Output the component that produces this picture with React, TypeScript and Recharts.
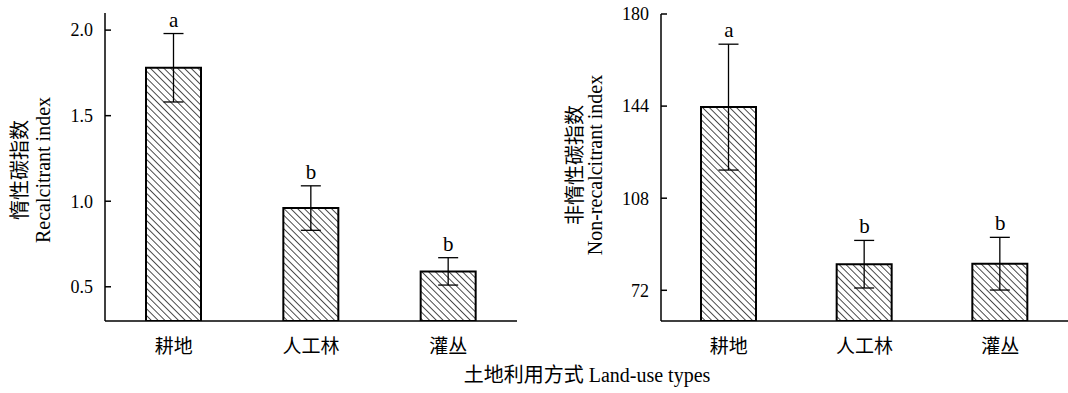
import { BarChart, Bar, XAxis, YAxis, ErrorBar, ReferenceDot, Label } from "recharts";

const landUse = ["耕地", "人工林", "灌丛"];

const recalcValues = [1.78, 0.96, 0.59];
const recalcErrors = [0.2, 0.13, 0.08];
const recalcLetters = ["a", "b", "b"];
const recalcTicks = [0.5, 1.0, 1.5, 2.0];

const nonRecalcValues = [143.6, 82.2, 82.4];
const nonRecalcErrors = [24.6, 9.3, 10.3];
const nonRecalcLetters = ["a", "b", "b"];
const nonRecalcTicks = [72, 108, 144, 180];

const FONT = "'Liberation Serif', 'Noto Sans CJK SC', serif";

const recalcData = landUse.map((name, i) => ({ name, value: recalcValues[i], err: recalcErrors[i] }));
const nonRecalcData = landUse.map((name, i) => ({ name, value: nonRecalcValues[i], err: nonRecalcErrors[i] }));

// y ticks with the tick mark pointing into the plot
const InTick = (props: any) => {
    const { y, payload, fmt, axisX } = props;
    return (
        <g>
            <line x1={axisX} x2={axisX + 6} y1={y} y2={y} stroke="#000" strokeWidth={1.5} />
            <text x={axisX - 12} y={y} dy="0.35em" textAnchor="end" fontSize={18} fontFamily={FONT} fill="#000">
                {fmt(payload.value)}
            </text>
        </g>
    );
};

const CatTick = (props: any) => {
    const { x, y, payload } = props;
    return (
        <text x={x} y={y} dy="0.85em" textAnchor="middle" fontSize={19} fontFamily={FONT} fill="#000">
            {payload.value}
        </text>
    );
};

const yTitle = (zh: string, en: string, x1: number, x2: number, cy: number) => () => (
    <g fontFamily={FONT} fontSize={20} fill="#000">
        <text x={x1} y={cy} transform={`rotate(-90 ${x1} ${cy})`} textAnchor="middle" dominantBaseline="central">{zh}</text>
        <text x={x2} y={cy} transform={`rotate(-90 ${x2} ${cy})`} textAnchor="middle" dominantBaseline="central">{en}</text>
    </g>
);

const Hatch = ({ id }: { id: string }) => (
    <defs>
        <pattern id={id} width={4.8} height={10} patternUnits="userSpaceOnUse" patternTransform="rotate(-45)">
            <rect width={4.8} height={10} fill="#fff" />
            <line x1={0} y1={0} x2={0} y2={10} stroke="#000" strokeWidth={1.4} />
        </pattern>
    </defs>
);

const letterLabel = (txt: string) => (p: any) => {
    const vb = p.viewBox || {};
    const cx = vb.x + (vb.width || 0) / 2;
    return (
        <text x={cx} y={vb.y - 7} textAnchor="middle" fontSize={21} fontFamily={FONT} fill="#000">
            {txt}
        </text>
    );
};

const App = () => (
    <div style={{ position: "absolute", left: 0, top: 0, width: 1068, height: 393, background: "#fff" }}>
        <div style={{ position: "absolute", left: 0, top: 0 }}>
            <BarChart width={530} height={393} data={recalcData} margin={{ top: 13, right: 13, bottom: 0, left: 0 }}>
                <Hatch id="hatchL" />
                <XAxis dataKey="name" height={72} tickLine={false} tickSize={0} tickMargin={16}
                    axisLine={{ stroke: "#000", strokeWidth: 1.5 }} tick={<CatTick />} />
                <YAxis type="number" width={105} domain={[0.3, 2.1]} ticks={recalcTicks} allowDataOverflow
                    tickLine={false} tickSize={0} tickMargin={8}
                    axisLine={{ stroke: "#000", strokeWidth: 1.5 }}
                    tick={<InTick axisX={105} fmt={(v: number) => v.toFixed(1)} />}>
                    <Label content={yTitle("惰性碳指数", "Recalcitrant index", 20, 43, 170)} />
                </YAxis>
                <Bar dataKey="value" fill="url(#hatchL)" stroke="#000" strokeWidth={2} barSize={55} isAnimationActive={false}>
                    <ErrorBar dataKey="err" width={10} stroke="#000" strokeWidth={1.3} />
                </Bar>
                {landUse.map((c, i) => (
                    <ReferenceDot key={c} x={c} y={recalcValues[i] + recalcErrors[i]} r={0} stroke="none" fill="none">
                        <Label content={letterLabel(recalcLetters[i])} />
                    </ReferenceDot>
                ))}
            </BarChart>
        </div>
        <div style={{ position: "absolute", left: 540, top: 0 }}>
            <BarChart width={528} height={393} data={nonRecalcData} margin={{ top: 14, right: 0, bottom: 0, left: 0 }}>
                <Hatch id="hatchR" />
                <XAxis dataKey="name" height={72} tickLine={false} tickSize={0} tickMargin={16}
                    axisLine={{ stroke: "#000", strokeWidth: 1.5 }} tick={<CatTick />} />
                <YAxis type="number" width={121} domain={[60, 180]} ticks={nonRecalcTicks} allowDataOverflow
                    tickLine={false} tickSize={0} tickMargin={8}
                    axisLine={{ stroke: "#000", strokeWidth: 1.5 }}
                    tick={<InTick axisX={121} fmt={(v: number) => String(v)} />}>
                    <Label content={yTitle("非惰性碳指数", "Non-recalcitrant index", 35, 55, 165)} />
                </YAxis>
                <Bar dataKey="value" fill="url(#hatchR)" stroke="#000" strokeWidth={2} barSize={55} isAnimationActive={false}>
                    <ErrorBar dataKey="err" width={10} stroke="#000" strokeWidth={1.3} />
                </Bar>
                {landUse.map((c, i) => (
                    <ReferenceDot key={c} x={c} y={nonRecalcValues[i] + nonRecalcErrors[i]} r={0} stroke="none" fill="none">
                        <Label content={letterLabel(nonRecalcLetters[i])} />
                    </ReferenceDot>
                ))}
            </BarChart>
        </div>
        <div style={{ position: "absolute", left: 0, width: 1174, top: 363, textAlign: "center", fontFamily: FONT, fontSize: 20, lineHeight: "24px", color: "#000" }}>
            土地利用方式 Land-use types
        </div>
    </div>
);

export default App;
